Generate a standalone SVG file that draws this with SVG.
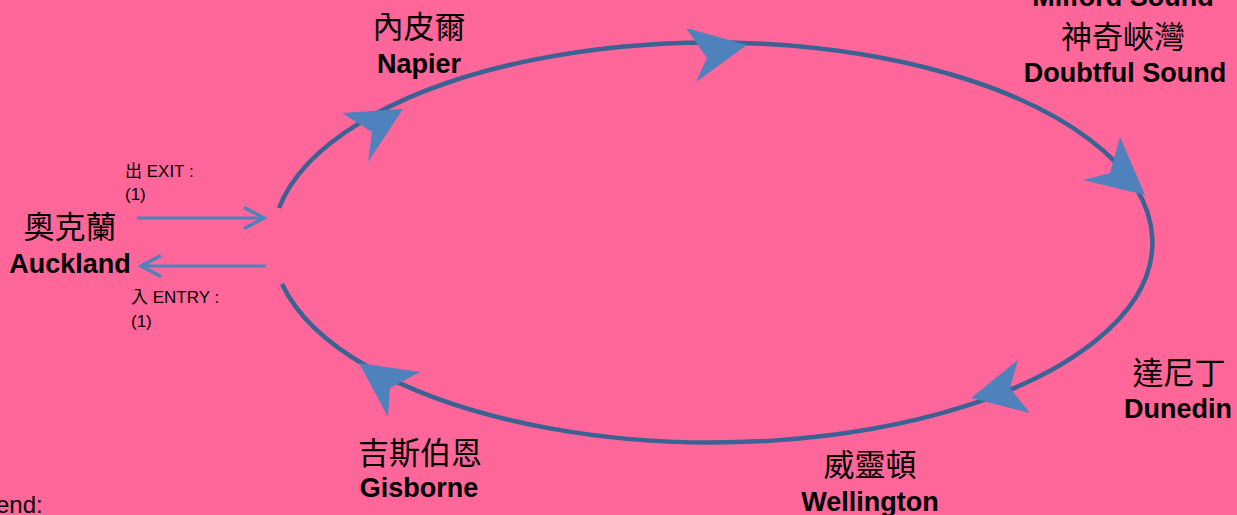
<svg xmlns="http://www.w3.org/2000/svg" width="1237" height="515" viewBox="0 0 1237 515">
<defs>
<style>
.zh{font-family:"Noto Sans CJK TC","Noto Sans CJK SC",sans-serif;font-size:31px;fill:#000;text-anchor:middle}
.en{font-family:"Liberation Sans",Arial,sans-serif;font-weight:bold;font-size:27px;fill:#000;text-anchor:middle}
.sm{font-family:"Liberation Sans","Noto Sans CJK TC",sans-serif;font-size:17px;fill:#000}
.ring{fill:none;stroke:#3A6393;stroke-width:4.5}
.head{fill:#4F81BD;stroke:none}
.line{stroke:#4F81BD;stroke-width:3;fill:none}
</style>
<marker id="chev" markerUnits="userSpaceOnUse" markerWidth="30" markerHeight="30" viewBox="-25 -15 30 30" refX="0" refY="0" orient="auto">
<path d="M -20 -10.5 L 0 0 L -20 10.5" fill="none" stroke="#4F81BD" stroke-width="3.5" stroke-linejoin="miter"/>
</marker>
</defs>
<rect x="0" y="0" width="1237" height="515" fill="#FF6699"/>
<g id="connectors">
<path class="ring" d="M 279 208 A 440 200 0 1 1 282 284"/>
<path class="head" d="M 403 109 L 342 113 L 372 132 L 368 162 Z"/>
<path class="head" d="M 747 45 L 686 28 L 707 58 L 696 82 Z"/>
<path class="head" d="M 1145 195 L 1120 137 L 1110 173 L 1083 180 Z"/>
<path class="head" d="M 971 398 L 1018 360 L 1010 388 L 1030 413 Z"/>
<path class="head" d="M 359 363 L 420 372 L 390 388 L 388 417 Z"/>
<line class="line" x1="137" y1="218" x2="264" y2="218" marker-end="url(#chev)"/>
<line class="line" x1="266" y1="266" x2="141" y2="266" marker-end="url(#chev)"/>
</g>
<g id="auckland">
<text class="zh" x="70" y="238">奧克蘭</text>
<text class="en" x="70" y="273">Auckland</text>
</g>
<g id="exit-label">
<text class="sm" x="125" y="177">出 EXIT :</text>
<text class="sm" x="125" y="200">(1)</text>
</g>
<g id="entry-label">
<text class="sm" x="131" y="303">入 ENTRY :</text>
<text class="sm" x="131" y="327">(1)</text>
</g>
<g id="napier">
<text class="zh" x="419" y="38">內皮爾</text>
<text class="en" x="419" y="73">Napier</text>
</g>
<g id="doubtful">
<text class="en" x="1123" y="6">Milford Sound</text>
<text class="zh" x="1123" y="48">神奇峽灣</text>
<text class="en" x="1125" y="82">Doubtful Sound</text>
</g>
<g id="dunedin">
<text class="zh" x="1179" y="384">達尼丁</text>
<text class="en" x="1178" y="418">Dunedin</text>
</g>
<g id="wellington">
<text class="zh" x="870" y="476">威靈頓</text>
<text class="en" x="870" y="511">Wellington</text>
</g>
<g id="gisborne">
<text class="zh" x="420" y="464">吉斯伯恩</text>
<text class="en" x="419" y="497">Gisborne</text>
</g>
<g id="legend">
<text class="sm" x="-4" y="513" style="font-size:24px">end:</text>
</g>
</svg>
